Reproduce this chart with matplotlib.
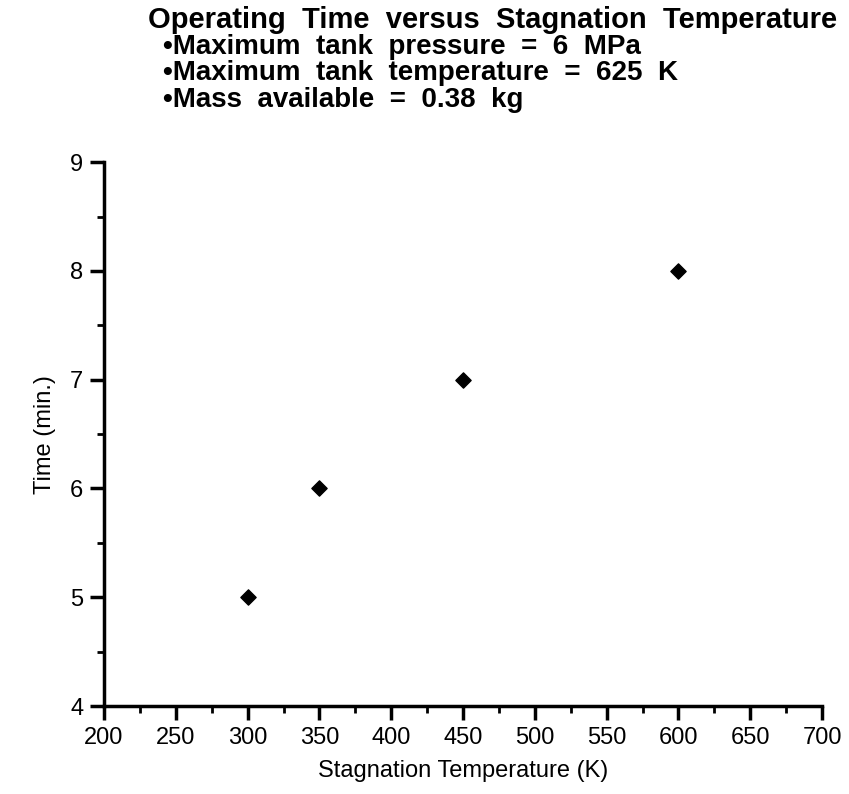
import matplotlib
matplotlib.use("Agg")
import matplotlib.pyplot as plt
from matplotlib.ticker import MultipleLocator

# data
temps = [300, 350, 450, 600]
times = [5, 6, 7, 8]

title = "Operating Time versus Stagnation Temperature"
notes = [
    "\u2022Maximum tank pressure = 6 MPa",
    "\u2022Maximum tank temperature = 625 K",
    "\u2022Mass available = 0.38 kg",
]

plt.rcParams['font.family'] = ['Liberation Sans', 'DejaVu Sans']

fig = plt.figure(figsize=(8.49, 7.94), dpi=100)
ax = fig.add_axes([0.1225, 0.1108, 0.8457, 0.685])

ax.scatter(temps, times, marker='D', s=60, color='black', zorder=3)

ax.set_xlim(200, 700)
ax.set_ylim(4, 9)
ax.xaxis.set_major_locator(MultipleLocator(50))
ax.xaxis.set_minor_locator(MultipleLocator(25))
ax.yaxis.set_major_locator(MultipleLocator(1))
ax.yaxis.set_minor_locator(MultipleLocator(0.5))

for s in ['top', 'right']:
    ax.spines[s].set_visible(False)
for s in ['left', 'bottom']:
    ax.spines[s].set_linewidth(2.5)

ax.tick_params(which='major', direction='out', length=10, width=2.5)
ax.tick_params(which='minor', direction='out', length=5, width=2)
ax.tick_params(axis='both', labelsize=17, pad=5)

ax.set_xlabel("Stagnation Temperature (K)", fontsize=17, labelpad=8)
ax.set_ylabel("Time (min.)", fontsize=17, labelpad=10)

# title block, wide word gaps like the original typesetting
fig.text(148 / 849, 1 - 20 / 794, title.replace(" ", "  "), fontsize=21,
         fontweight='bold', ha='left', va='center')
for i, line in enumerate(notes):
    fig.text(163 / 849, 1 - (47 + 26.5 * i) / 794, line.replace(" ", "  "),
             fontsize=20, fontweight='bold', ha='left', va='center')

fig.savefig("out.png", dpi=100)
